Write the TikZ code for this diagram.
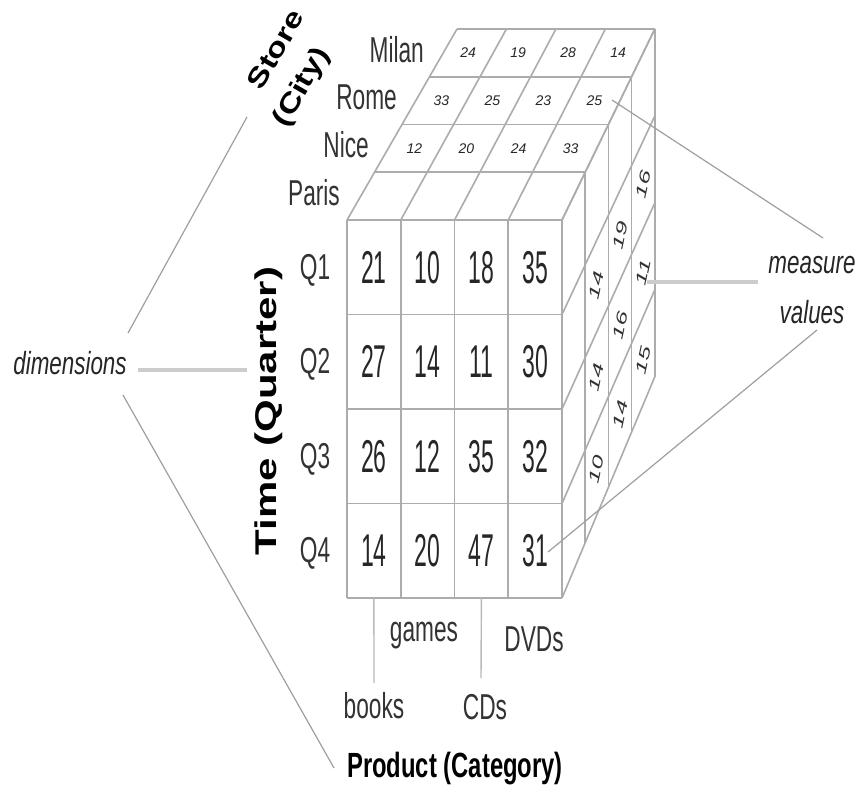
\documentclass[tikz,border=0pt]{standalone}
\usepackage{fontspec}
\setmainfont{Liberation Sans}
\newfontfamily\numf[FakeStretch=0.5]{Liberation Sans}
\newfontfamily\labf[FakeStretch=0.63]{Liberation Sans}
\newfontfamily\itf[FakeStretch=0.7]{Liberation Sans}
\newfontfamily\prodf[FakeStretch=0.68]{Liberation Sans}
\newfontfamily\timef[FakeStretch=1.4]{Liberation Sans}
\newfontfamily\storef[FakeStretch=1.25]{Liberation Sans}
\newfontfamily\sidef[FakeStretch=1.7]{Liberation Sans}
\begin{document}
\begin{tikzpicture}[x=1pt,y=-1pt,
  cubeline/.style={draw=gray!65, line width=1.6pt},
  callout/.style={draw=gray!75, line width=1.2pt},
  thickcall/.style={draw=gray!40, line width=3.5pt},
  frontnum/.style={font=\numf\fontsize{46}{50}\selectfont, text=black!85, inner sep=0pt},
  lab/.style={font=\labf\fontsize{36}{40}\selectfont, text=black!80, inner sep=0pt},
  topnum/.style={font=\itshape\fontsize{14}{16}\selectfont, text=black!85, inner sep=0pt},
  sidenum/.style={font=\sidef\itshape\fontsize{15}{17}\selectfont, text=black!80, rotate=78, inner sep=0pt},
  itlab/.style={font=\itf\itshape\fontsize{32}{36}\selectfont, text=black!85, inner sep=0pt}
]
\fill[white] (0,0) rectangle (858,790);
\useasboundingbox (0,0) rectangle (858,790);

% cube lattice points (u = column, v = row, w = depth)
\foreach \u in {0,...,4}{
  \foreach \v in {0,...,4}{
    \foreach \w in {0,...,4}{
      \coordinate (p\u\v\w) at ({347+27.5*\w+\u*53.75*(1-0.02*\w)},{220-47.75*\w+\v*94.5*(1-0.02*\w)});
    }
  }
}

% front face
\foreach \i in {0,...,4}{
  \draw[cubeline] (p\i00) -- (p\i40);
  \draw[cubeline] (p0\i0) -- (p4\i0);
}
% top face
\foreach \i in {0,...,4}{
  \draw[cubeline] (p\i00) -- (p\i04);
  \draw[cubeline] (p00\i) -- (p40\i);
}
% right face
\foreach \i in {1,...,4}{
  \draw[cubeline] (p40\i) -- (p44\i);
}
\foreach \i in {0,...,4}{
  \draw[cubeline] (p4\i0) -- (p4\i4);
}

% front values
\foreach \row [count=\j from 0] in {{21,10,18,35},{27,14,11,30},{26,12,35,32},{14,20,47,31}}{
  \foreach \val [count=\i from 0] in \row {
    \node[frontnum] (f\i\j) at ({347+53.75*(\i+0.5)},{220+94.5*(\j+0.5)}) {\val};
  }
}

% top values
\foreach \lst/\w in {{12,20,24,33}/1,{33,25,23,25}/2,{24,19,28,14}/3}{
  \foreach \val [count=\i from 0] in \lst {
    \node[topnum] (t\i\w) at ({347+27.5*(\w+0.5)+(\i+0.5)*53.75*(1-0.02*(\w+0.5))},{220-47.75*(\w+0.5)}) {\val};
  }
}

% side values
\foreach \lst/\w in {{14,14,10}/1,{19,16,14}/2,{16,11,15}/3}{
  \foreach \val [count=\j from 1] in \lst {
    \node[sidenum] (s\j\w) at ({347+27.5*(\w+0.5)+4*53.75*(1-0.02*(\w+0.5))},{220-47.75*(\w+0.5)+(\j+0.5)*94.5*(1-0.02*(\w+0.5))}) {\val};
  }
}

% city labels
\node[lab, anchor=east] (paris) at (340,193) {Paris};
\node[lab, anchor=east] (nice) at (369,145) {Nice};
\node[lab, anchor=east] (rome) at (397,97) {Rome};
\node[lab, anchor=east] (milan) at (424,50) {Milan};

% quarter labels
\node[lab] (q1) at (315,270) {Q1};
\node[lab] (q2) at (315,364) {Q2};
\node[lab] (q3) at (315,459) {Q3};
\node[lab] (q4) at (315,553) {Q4};

% product labels
\node[lab] (games) at (424,636) {games};
\node[lab] (dvds) at (534,639) {DVDs};
\node[lab] (books) at (374,706) {books};
\node[lab] (cds) at (485,707) {CDs};
\coordinate (bookstop) at (374,683);
\coordinate (cdstop) at (481,678);
\draw[draw=gray!55, line width=1.4pt] (p040) ++(26.9,0) coordinate (bcol) -- (bookstop);
\draw[draw=gray!55, line width=1.4pt] (p040) ++(134.4,0) coordinate (ccol) -- (cdstop);

% axis titles
\node[font=\prodf\bfseries\fontsize{35}{40}\selectfont, inner sep=0pt] (prod) at (455,769) {Product (Category)};
\node[font=\timef\bfseries\fontsize{30}{34}\selectfont, rotate=90, inner sep=0pt] (time) at (269,411) {Time (Quarter)};
\node[font=\storef\bfseries\fontsize{27}{40}\selectfont, rotate=60, inner sep=0pt, align=center] (store) at (285,78) {\hspace*{40pt}Store\\(City)};

% dimensions callout
\node[itlab] (dim) at (70,363) {dimensions};
\coordinate (dA) at (128,333);
\coordinate (dB) at (247,117);
\coordinate (dC) at (138,370);
\coordinate (dD) at (247,370);
\coordinate (dE) at (123,395);
\coordinate (dF) at (334,768);
\draw[callout] (dA) -- (dB);
\draw[thickcall] (dC) -- (dD);
\draw[callout] (dE) -- (dF);

% measure values callout
\node[itlab] (meas) at (812,265) {measure};
\node[itlab] (vals) at (812,312) {values};
\coordinate (mA) at (612,100);
\coordinate (mB) at (823,238);
\coordinate (mC) at (647,282);
\coordinate (mD) at (758,282);
\coordinate (mE) at (548,552);
\coordinate (mF) at (817,330);
\draw[callout] (mA) -- (mB);
\draw[thickcall] (mC) -- (mD);
\draw[callout] (mE) -- (mF);
\end{tikzpicture}
\end{document}
